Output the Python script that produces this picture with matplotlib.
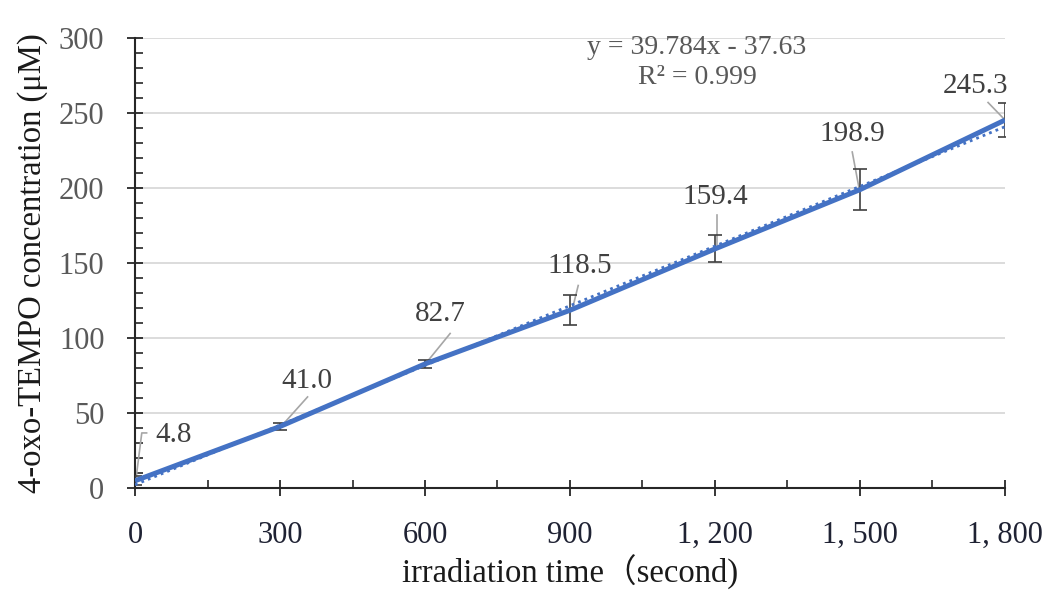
import matplotlib
matplotlib.use("Agg")
import matplotlib.pyplot as plt
import numpy as np
from matplotlib.ticker import MultipleLocator

# Data
times = [0, 300, 600, 900, 1200, 1500, 1800]
conc = [4.8, 41.0, 82.7, 118.5, 159.4, 198.9, 245.3]
errors = [3.0, 2.3, 2.7, 10.0, 9.0, 13.7, 11.5]
labels = ["4.8", "41.0", "82.7", "118.5", "159.4", "198.9", "245.3"]
xtick_vals = [0, 300, 600, 900, 1200, 1500, 1800]
xtick_labels = ["0", "300", "600", "900", "1, 200", "1, 500", "1, 800"]
slope, intercept = 39.784, -37.63   # trendline on category index (1..7)

plt.rcParams['font.family'] = ['Liberation Serif', 'Noto Sans CJK JP', 'DejaVu Serif']

fig = plt.figure(figsize=(10.45, 5.92), dpi=100)
ax = fig.add_axes([0.1292, 0.1757, 0.8325, 0.7601])

blue = "#4472C4"
gray = "#595959"

ax.set_xlim(0, 1800)
ax.set_ylim(0, 300)

# gridlines
for yv in range(50, 301, 50):
    ax.axhline(yv, color="#D9D9D9", lw=1.3, zorder=0)

# error bars
ax.errorbar(times, conc, yerr=errors, fmt='none', ecolor="#404040", elinewidth=1.2,
            capsize=5, capthick=1.2, zorder=3)

# main line
ax.plot(times, conc, color=blue, lw=3.6, zorder=4, solid_capstyle='butt')

# trendline (dotted)
idx = np.array(times) / 300.0 + 1
trend = slope * idx + intercept
ax.plot(times, trend, color=blue, lw=2.0, ls=(0, (1, 1.5)), zorder=4)

# data labels with leader lines
label_pos = [(79, 35), (356, 71), (631, 116), (921, 148), (1200, 194), (1484, 236), (1738, 268)]
leaders = [
    [(24, 36.7), (14, 36.7), (2, 6)],
    [(357, 60.7), (305, 42)],
    [(652, 103), (604, 84)],
    [(917, 135), (906, 120.7)],
    [(1204, 182), (1204, 160.7)],
    [(1484, 224), (1498, 200)],
    [(1765, 257), (1796, 246.7)],
]
for (lx, ly), txt, ld in zip(label_pos, labels, leaders):
    ax.text(lx, ly, txt, ha='center', va='center', fontsize=21, color="#404040", zorder=5)
    xs, ys = zip(*ld)
    ax.plot(xs, ys, color="#A6A6A6", lw=1.2, zorder=2)

# equation text
ax.text(1163, 294, "y = 39.784x - 37.63", ha='center', va='center', fontsize=20, color=gray)
ax.text(1163, 274, "R² = 0.999", ha='center', va='center', fontsize=20, color=gray)

# spines
for s in ['top', 'right']:
    ax.spines[s].set_visible(False)
for s in ['left', 'bottom']:
    ax.spines[s].set_color("#262626")
    ax.spines[s].set_linewidth(1.5)

ax.set_xticks(xtick_vals)
ax.set_xticklabels(xtick_labels)
ax.xaxis.set_minor_locator(MultipleLocator(150))
ax.yaxis.set_major_locator(MultipleLocator(50))
ax.yaxis.set_minor_locator(MultipleLocator(10))

ax.tick_params(axis='both', which='major', direction='inout', length=12, width=1.3, color="#262626")
ax.tick_params(axis='both', which='minor', direction='in', length=6, width=1.2, color="#262626")
ax.tick_params(axis='x', which='major', labelsize=22, pad=18, labelcolor="#1F2233")
ax.tick_params(axis='y', which='major', labelsize=22, pad=16, labelcolor=gray)

ax.set_xlabel("irradiation time（second)", fontsize=23.5, color="#1A1A1A", labelpad=3)
ax.set_ylabel("4-oxo-TEMPO concentration (μM)", fontsize=23.5, color="#1A1A1A", labelpad=8)

fig.savefig("out.png", dpi=100)
